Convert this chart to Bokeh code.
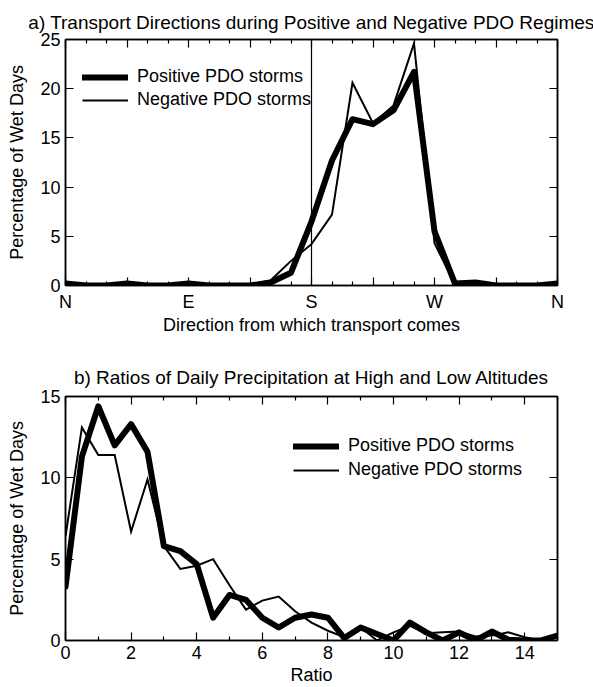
from bokeh.plotting import figure
from bokeh.layouts import column
from bokeh.models import (Range1d, FixedTicker, LinearAxis, Span, Legend, LegendItem,
                          CustomLabelingPolicy)
from bokeh.embed import file_html
from bokeh.resources import INLINE

# ---------------- data ----------------
directions = [0, 15, 30, 45, 60, 75, 90, 105, 120, 135, 150, 165, 180,
              195, 210, 225, 240, 255, 270, 285, 300, 315, 330, 345, 360]
pos_dir = [0.2, 0.0, 0.0, 0.2, 0.0, 0.0, 0.2, 0.0, 0.0, 0.0, 0.3, 1.3, 6.5,
           12.7, 16.9, 16.4, 17.8, 21.7, 5.5, 0.2, 0.3, 0.0, 0.0, 0.0, 0.2]
neg_dir = [0.1, 0.0, 0.0, 0.1, 0.0, 0.0, 0.1, 0.0, 0.0, 0.1, 0.5, 2.5, 4.2,
           7.2, 20.6, 16.5, 18.3, 24.6, 4.3, 0.1, 0.2, 0.0, 0.0, 0.0, 0.1]
dir_major = [0, 45, 90, 135, 180, 225, 270, 315, 360]
dir_minor = [15, 30, 60, 75, 105, 120, 150, 165, 195, 210, 240, 255, 285, 300, 330, 345]
dir_labels = {0: "N", 45: "", 90: "E", 135: "", 180: "S", 225: "", 270: "W", 315: "", 360: "N"}
dir_yticks = [0, 5, 10, 15, 20, 25]

ratio = [0, 0.5, 1, 1.5, 2, 2.5, 3, 3.5, 4, 4.5, 5, 5.5, 6, 6.5, 7, 7.5, 8,
         8.5, 9, 9.5, 10, 10.5, 11, 11.5, 12, 12.5, 13, 13.5, 14, 14.5, 15]
pos_ratio = [3.3, 11.3, 14.4, 12.0, 13.3, 11.6, 5.8, 5.5, 4.7, 1.4, 2.8, 2.5, 1.4,
             0.8, 1.4, 1.6, 1.4, 0.15, 0.8, 0.4, 0.0, 1.1, 0.5, 0.0, 0.5, 0.0,
             0.55, 0.05, 0.0, 0.0, 0.3]
neg_ratio = [6.4, 13.1, 11.4, 11.4, 6.7, 9.9, 5.8, 4.4, 4.6, 5.0, 3.4, 1.9, 2.45,
             2.7, 1.8, 1.1, 0.6, 0.2, 0.8, 0.0, 0.5, 0.9, 0.45, 0.5, 0.55, 0.25,
             0.3, 0.5, 0.2, 0.0, 0.2]
ratio_major = [0, 2, 4, 6, 8, 10, 12, 14]
ratio_minor = [1, 3, 5, 7, 9, 11, 13, 15]
ratio_yticks = [0, 5, 10, 15]

FONT = "Liberation Sans"
FS = "18px"
TFS = "19px"


def make_fig(title, height, top, bottom, xr, yr, tstand):
    p = figure(width=593, height=height, x_range=Range1d(*xr), y_range=Range1d(*yr),
               output_backend="svg", toolbar_location=None,
               min_border_left=65, min_border_right=36,
               min_border_top=top, min_border_bottom=bottom)
    p.title.text = title
    p.title.align = "center"
    p.title.text_font = FONT
    p.title.text_font_size = TFS
    p.title.text_font_style = "normal"
    p.title.text_color = "black"
    p.title.standoff = tstand
    p.grid.visible = False
    p.outline_line_color = "black"
    p.outline_line_width = 1.5
    p.outline_line_alpha = 1
    p.background_fill_color = "white"
    p.border_fill_color = "white"
    return p


def style_axis(ax, fs=FS):
    ax.axis_line_color = "black"
    ax.axis_line_width = 1.5
    ax.major_tick_in = 8
    ax.major_tick_out = 0
    ax.minor_tick_in = 4
    ax.minor_tick_out = 0
    ax.major_tick_line_color = "black"
    ax.minor_tick_line_color = "black"
    ax.major_tick_line_width = 1.2
    ax.minor_tick_line_width = 1.2
    ax.major_label_text_font = FONT
    ax.major_label_text_font_size = fs
    ax.major_label_text_color = "black"
    ax.axis_label_text_font = FONT
    ax.axis_label_text_font_size = FS
    ax.axis_label_text_font_style = "normal"
    ax.axis_label_text_color = "black"


NO_LABELS = CustomLabelingPolicy(code="return new Set()")


def add_frame_axes(p, xticker, yticker, xlabel, ylabel, xstand, xlstand, xoverrides=None):
    bx = p.below[0]
    ly = p.left[0]
    style_axis(bx)
    style_axis(ly)
    bx.ticker = xticker
    ly.ticker = yticker
    if xoverrides:
        bx.major_label_overrides = xoverrides
    bx.axis_label = xlabel
    ly.axis_label = ylabel
    bx.major_label_standoff = xstand
    bx.axis_label_standoff = xlstand
    ly.major_label_standoff = 5
    ly.axis_label_standoff = 10
    top_ax = LinearAxis(ticker=xticker, major_label_policy=NO_LABELS)
    style_axis(top_ax, "0px")
    top_ax.major_label_standoff = 0
    right_ax = LinearAxis(ticker=yticker, major_label_policy=NO_LABELS)
    style_axis(right_ax, "0px")
    right_ax.major_label_standoff = 0
    p.add_layout(top_ax, "above")
    p.add_layout(right_ax, "right")


def add_legend(p, r1, r2, loc, spacing):
    leg = Legend(items=[LegendItem(label="Positive PDO storms", renderers=[r1]),
                        LegendItem(label="Negative PDO storms", renderers=[r2])],
                 location=loc)
    leg.label_text_font = FONT
    leg.label_text_font_size = FS
    leg.label_text_color = "black"
    leg.glyph_width = 46
    leg.glyph_height = 20
    leg.label_height = 20
    leg.label_standoff = 9
    leg.spacing = spacing
    leg.padding = 0
    leg.margin = 0
    leg.border_line_alpha = 0
    leg.background_fill_alpha = 0
    p.add_layout(leg)


# ---------------- top panel ----------------
p1 = make_fig("a) Transport Directions during Positive and Negative PDO Regimes",
              343, 39, 58, (0, 360), (0, 25), 14)
add_frame_axes(p1, FixedTicker(ticks=dir_major, minor_ticks=dir_minor),
               FixedTicker(ticks=dir_yticks, minor_ticks=[]),
               "Direction from which transport comes", "Percentage of Wet Days",
               6, 0, dir_labels)
p1.add_layout(Span(location=180, dimension="height", line_color="black", line_width=1.2))
r1 = p1.line(directions, pos_dir, line_color="black", line_width=6,
             line_join="round", line_cap="round")
r2 = p1.line(directions, neg_dir, line_color="black", line_width=2,
             line_join="miter")
add_legend(p1, r1, r2, (17, 175), 2)

# ---------------- bottom panel ----------------
p2 = make_fig("b) Ratios of Daily Precipitation at High and Low Altitudes",
              344, 53, 45, (0, 15), (0, 15), 18)
add_frame_axes(p2, FixedTicker(ticks=ratio_major, minor_ticks=ratio_minor),
               FixedTicker(ticks=ratio_yticks, minor_ticks=[]),
               "Ratio", "Percentage of Wet Days", 5, 3)
q1 = p2.line(ratio, pos_ratio, line_color="black", line_width=6,
             line_join="round", line_cap="round")
q2 = p2.line(ratio, neg_ratio, line_color="black", line_width=2,
             line_join="miter")
add_legend(p2, q1, q2, (228, 160), 3)

layout = column(p1, p2, spacing=0)
open("out.html", "w").write(file_html(layout, INLINE))
